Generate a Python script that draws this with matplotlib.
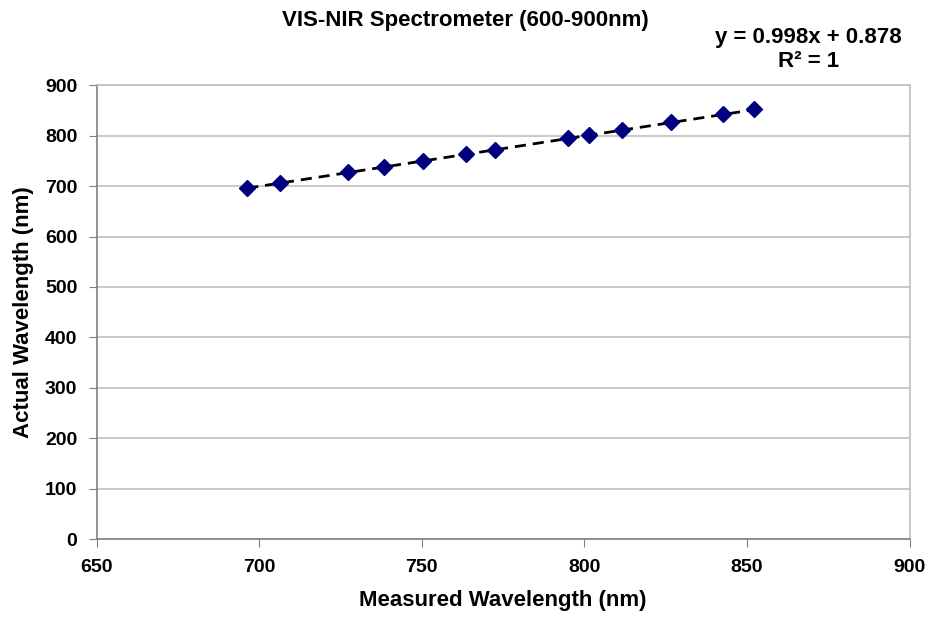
import numpy as np
import matplotlib.pyplot as plt

plt.rcParams['font.family'] = ['Liberation Sans', 'DejaVu Sans']
plt.rcParams['font.weight'] = 'bold'

# Argon lines: measured vs. reference wavelength (nm)
measured = [696.3, 706.5, 727.2, 738.3, 750.3, 763.5, 772.4, 794.8, 801.5, 811.6, 826.6, 842.6, 852.2]
actual = [696.5, 706.7, 727.3, 738.4, 750.4, 763.5, 772.4, 794.8, 801.5, 811.5, 826.5, 842.5, 852.1]
slope = 0.998
intercept = 0.878

fig = plt.figure(figsize=(9.3, 6.17), dpi=100)
ax = fig.add_axes([0.104, 0.126, 0.874, 0.736])

# linear trendline over the measured range
xt = np.array([min(measured), max(measured)])
ax.plot(xt, slope * xt + intercept, color='black', linestyle=(0, (4, 2.5)), linewidth=2, zorder=2)
ax.plot(measured, actual, linestyle='none', marker='D', markersize=8,
        color='#00007f', markeredgecolor='#00007f', zorder=3)

ax.set_xlim(650, 900)
ax.set_ylim(0, 900)
ax.set_xticks(np.arange(650, 901, 50))
ax.set_yticks(np.arange(0, 901, 100))
ax.yaxis.grid(True, color='#c0c0c0', linewidth=1.2)
ax.set_axisbelow(True)

for side in ['top', 'right']:
    ax.spines[side].set_color('#c0c0c0')
    ax.spines[side].set_linewidth(1.2)
for side in ['left', 'bottom']:
    ax.spines[side].set_color('#808080')
    ax.spines[side].set_linewidth(1.2)
ax.tick_params(axis='both', direction='out', length=6, color='#808080',
               labelsize=14, pad=8)
for lbl in ax.get_xticklabels() + ax.get_yticklabels():
    lbl.set_fontweight('bold')

ax.set_xlabel('Measured Wavelength (nm)', fontsize=16, fontweight='bold', labelpad=10)
ax.set_ylabel('Actual Wavelength (nm)', fontsize=16, fontweight='bold', labelpad=8)

fig.text(0.5, 0.967, 'VIS-NIR Spectrometer (600-900nm)', ha='center', va='center',
         fontsize=16, fontweight='bold')
fig.text(0.869, 0.94, 'y = %.3fx + %.3f' % (slope, intercept), ha='center', va='center',
         fontsize=16, fontweight='bold')
fig.text(0.869, 0.9, 'R² = 1', ha='center', va='center', fontsize=16, fontweight='bold')

fig.savefig('out.png', dpi=100)
